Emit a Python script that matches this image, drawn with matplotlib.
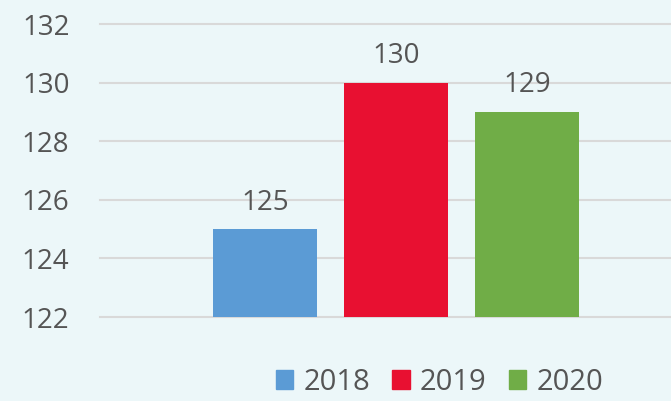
import matplotlib.pyplot as plt
from matplotlib.patches import Patch

years = ["2018", "2019", "2020"]
values = [125, 130, 129]
colors = ["#5B9BD5", "#E81031", "#70AD47"]
yticks = [122, 124, 126, 128, 130, 132]

bg = "#ECF7F9"
text_color = "#555555"
plt.rcParams['font.family'] = ['Open Sans', 'DejaVu Sans']

fig = plt.figure(figsize=(6.71, 4.01), dpi=100, facecolor=bg)
# axes placed in pixels: left 100, bottom gridline at y=317, top at y=24
ax = fig.add_axes([100 / 671, (401 - 317) / 401, 571 / 671, (317 - 24) / 401])
ax.set_facecolor(bg)

x = [0, 1, 2]
base = yticks[0]
bars = ax.bar(x, [v - base for v in values], bottom=base, width=104 / 131,
              color=colors, zorder=3)
ax.bar_label(bars, labels=[str(v) for v in values], padding=9,
             fontsize=20, color=text_color)

ax.set_ylim(yticks[0], yticks[-1])
ax.set_xlim(-165 / 131, 406 / 131)
ax.set_yticks(yticks)
ax.set_xticks([])
ax.grid(axis='y', color="#D9D9D9", linewidth=1.5, zorder=0)
for line in ax.get_ygridlines():
    line.set_clip_on(False)
ax.tick_params(axis='y', length=0, pad=22, labelsize=20, labelcolor=text_color)
for s in ax.spines.values():
    s.set_visible(False)

handles = [Patch(color=c, label=y) for c, y in zip(colors, years)]
fig.legend(handles=handles, loc='lower center', bbox_to_anchor=(0.655, -0.055),
           ncol=3, frameon=False, fontsize=21, labelcolor=text_color,
           handlelength=0.6, handleheight=0.6, handletextpad=0.35,
           columnspacing=0.76)

fig.savefig("out.png", dpi=100, facecolor=bg)
